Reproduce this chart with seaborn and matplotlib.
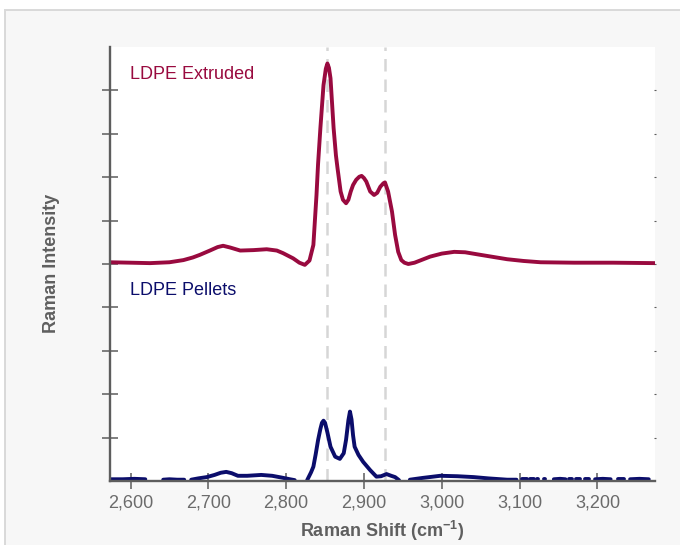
import numpy as np
import pandas as pd
import matplotlib
matplotlib.use("Agg")
import matplotlib.pyplot as plt
from matplotlib.patches import Rectangle
from matplotlib.ticker import FuncFormatter
import seaborn as sns

# ---------------- data ----------------
extruded_shift = [2573, 2600, 2625, 2650, 2668, 2680, 2689, 2702, 2712, 2719,
                  2728, 2741, 2758, 2775, 2788, 2796, 2809, 2817, 2824, 2830,
                  2835, 2839, 2841, 2844, 2848, 2851, 2853, 2855, 2857, 2861,
                  2864, 2866, 2870, 2873, 2877, 2880, 2883, 2886, 2890, 2894,
                  2897, 2900, 2903, 2908, 2913, 2917, 2921, 2925, 2927, 2931,
                  2936, 2940, 2944, 2948, 2952, 2957, 2965, 2975, 2985, 3000,
                  3016, 3030, 3050, 3067, 3084, 3105, 3127, 3170, 3220, 3274]
extruded_int = [5.04, 5.03, 5.02, 5.04, 5.09, 5.15, 5.21, 5.31, 5.39, 5.42,
                5.38, 5.31, 5.32, 5.34, 5.31, 5.25, 5.13, 5.03, 4.98, 5.08,
                5.44, 6.59, 7.30, 8.13, 9.12, 9.50, 9.62, 9.52, 9.28, 8.13,
                7.50, 7.21, 6.67, 6.48, 6.40, 6.48, 6.67, 6.82, 6.94, 7.01,
                7.03, 6.98, 6.90, 6.67, 6.59, 6.64, 6.78, 6.86, 6.88, 6.67,
                6.21, 5.67, 5.28, 5.09, 5.03, 5.00, 5.03, 5.10, 5.17, 5.24,
                5.28, 5.27, 5.21, 5.16, 5.11, 5.07, 5.04, 5.03, 5.03, 5.02]

nan = float("nan")
pellets_shift = [2573, 2590, 2605, 2619, 2630,
                 2642, 2650, 2660, 2669, 2674,
                 2678, 2687, 2698, 2708, 2716, 2723, 2730, 2738, 2750, 2768,
                 2782, 2794, 2805, 2811, 2819,
                 2827, 2832, 2835, 2838, 2841, 2844, 2846, 2848, 2850, 2853,
                 2857, 2863, 2869, 2874, 2877, 2880, 2882, 2884, 2886, 2888,
                 2893, 2899, 2908, 2916, 2922, 2929, 2935, 2940, 2945, 2952,
                 2959, 2975, 2998, 3020, 3041, 3060, 3084, 3096, 3100,
                 3103, 3109, 3111, 3114, 3118, 3120, 3122, 3124, 3127,
                 3131, 3133, 3139, 3144, 3152, 3159, 3161, 3163, 3167, 3170,
                 3172, 3178, 3181, 3184, 3189, 3193, 3197, 3207, 3217, 3222,
                 3227, 3234, 3238, 3242, 3254, 3266, 3270]
pellets_int = [0.04, 0.04, 0.05, 0.04, nan,
               0.03, 0.04, 0.03, 0.03, nan,
               0.03, 0.06, 0.09, 0.14, 0.19, 0.21, 0.18, 0.12, 0.12, 0.14,
               0.12, 0.08, 0.04, 0.02, nan,
               0.02, 0.20, 0.33, 0.62, 0.94, 1.20, 1.34, 1.39, 1.34, 1.12,
               0.79, 0.56, 0.51, 0.64, 0.95, 1.40, 1.60, 1.42, 1.05, 0.79,
               0.60, 0.44, 0.25, 0.10, 0.11, 0.16, 0.12, 0.09, 0.02, nan,
               0.03, 0.07, 0.12, 0.11, 0.09, 0.06, 0.03, 0.03, nan,
               0.04, 0.04, nan, 0.04, 0.04, nan, 0.04, 0.04, nan,
               0.04, 0.04, nan, 0.04, 0.05, 0.04, nan, 0.04, 0.04, nan,
               0.04, 0.04, nan, 0.04, 0.04, nan, 0.04, 0.05, 0.04, nan,
               0.04, 0.04, nan, 0.04, 0.05, 0.04, nan]

marker_lines = [2853, 2927]
x_ticks = [2600, 2700, 2800, 2900, 3000, 3100, 3200]
y_ticks = [1, 2, 3, 4, 5, 6, 7, 8, 9]
series_labels = ["LDPE Extruded", "LDPE Pellets"]

# ---------------- style ----------------
sns.set_theme(style="white")
plt.rcParams["font.family"] = ["Liberation Sans", "DejaVu Sans"]
plt.rcParams["mathtext.default"] = "regular"

C_EXT = "#990a3f"
C_PEL = "#0b0d6b"
C_AXIS = "#5d5d5d"
C_TICKLBL = "#6b6b6b"
C_LABEL = "#5f5f5f"

fig = plt.figure(figsize=(6.8, 5.45), dpi=100)
fig.patch.set_facecolor("white")
W, H = 680, 545

# background panel (light grey with border on top and left)
bg = fig.add_axes([0, 0, 1, 1], zorder=-5)
bg.set_xlim(0, W)
bg.set_ylim(H, 0)
bg.axis("off")
bg.add_patch(Rectangle((5, 10), W + 20, H + 20, facecolor="#f7f7f7",
                       edgecolor="#d9d9d9", linewidth=1.4))

ax = fig.add_axes([109.5 / W, (H - 481) / H, (655 - 109.5) / W, (481 - 47) / H],
                  zorder=1)
ax.set_facecolor("white")

# dashed reference lines
for xv in marker_lines:
    ax.axvline(xv, color="#d6d6d6", linewidth=1.8, dashes=(5, 3.2), zorder=1)

# data frames
ext = pd.DataFrame({"shift": extruded_shift, "intensity": extruded_int})
pel = pd.DataFrame({"shift": pellets_shift, "intensity": pellets_int})
pel["seg"] = pel["intensity"].isna().cumsum()
pel = pel.dropna()

sns.lineplot(data=ext, x="shift", y="intensity", color=C_EXT, linewidth=2.8,
             ax=ax, zorder=3, sort=False)
sns.lineplot(data=pel, x="shift", y="intensity", units="seg", estimator=None,
             color=C_PEL, linewidth=2.8, ax=ax, zorder=3, sort=False)
for ln in ax.get_lines():
    ln.set_solid_joinstyle("round")
    ln.set_solid_capstyle("round")

ax.set_xlim(2573, 3274)
ax.set_ylim(0, 10)

# spines
for s in ["top", "right"]:
    ax.spines[s].set_visible(False)
for s in ["left", "bottom"]:
    ax.spines[s].set_color(C_AXIS)
    ax.spines[s].set_linewidth(1.7)
    ax.spines[s].set_zorder(4)

ax.set_xticks(x_ticks)
ax.xaxis.set_major_formatter(FuncFormatter(lambda v, p: f"{int(v):,}"))
ax.set_yticks(y_ticks)
ax.set_yticklabels([])
ax.tick_params(axis="x", direction="inout", length=11, width=1.1, color=C_AXIS,
               labelsize=13, labelcolor=C_TICKLBL, pad=4, bottom=True)
ax.tick_params(axis="y", direction="inout", length=11, width=1.1, color=C_AXIS,
               left=True, right=True)
# tiny right ticks
for t in ax.yaxis.get_major_ticks():
    t.tick2line.set_markersize(2)
    t.tick2line.set_color("#444444")
    t.tick2line.set_markeredgewidth(0.8)

ax.set_xlabel("Raman Shift (cm$^{-1}$)", fontsize=13, fontweight="bold",
              color=C_LABEL)
ax.set_ylabel("Raman Intensity", fontsize=13, fontweight="bold", color=C_LABEL)
ax.xaxis.set_label_coords((382 - 109.5) / 545.5, (481 - 531) / 434)
ax.xaxis.label.set_va("center")
ax.yaxis.set_label_coords((51 - 109.5) / 545.5, (481 - 263) / 434)
ax.yaxis.label.set_va("center")

ax.text((130 - 109.5) / 545.5, (481 - 79) / 434, series_labels[0],
        transform=ax.transAxes, color=C_EXT, fontsize=13, va="baseline")
ax.text((130 - 109.5) / 545.5, (481 - 295) / 434, series_labels[1],
        transform=ax.transAxes, color=C_PEL, fontsize=13, va="baseline")

fig.savefig("out.png", dpi=100)
